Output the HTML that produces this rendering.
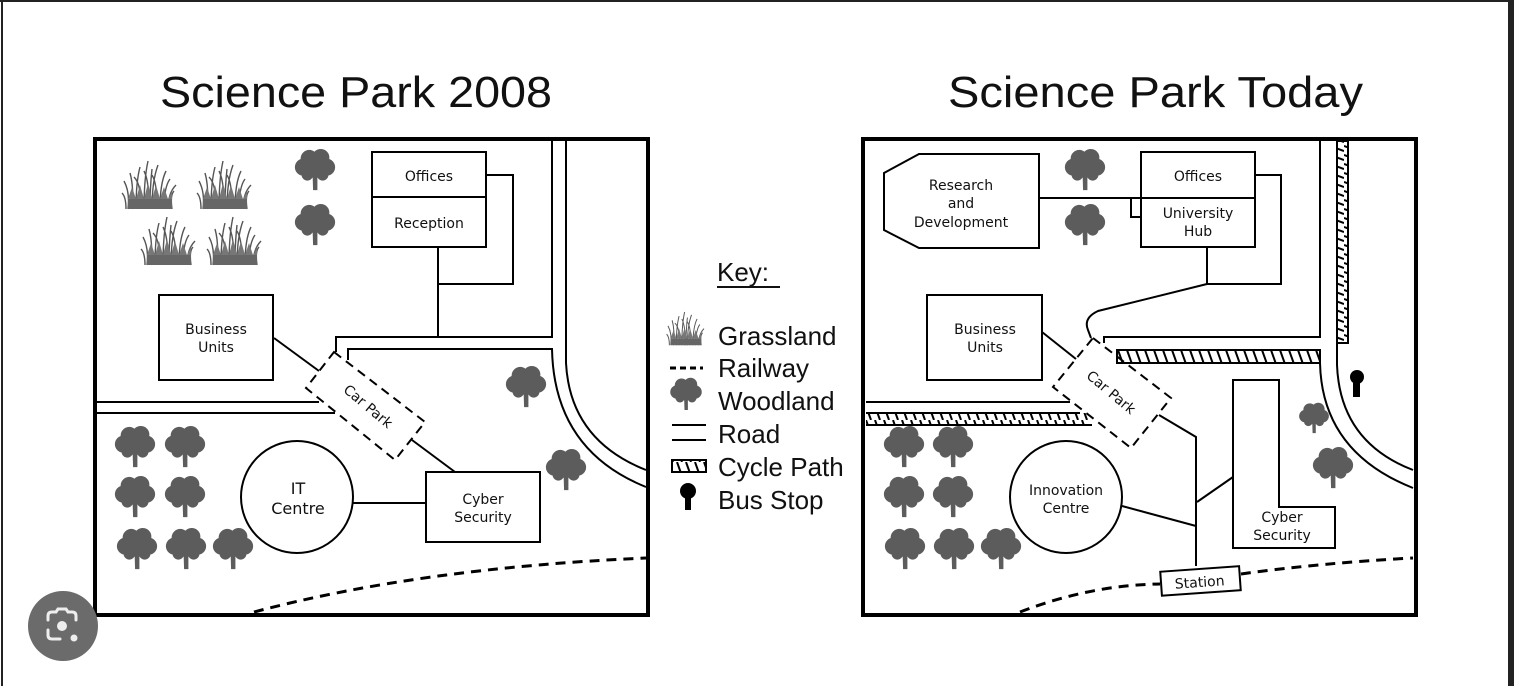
<!DOCTYPE html>
<html><head><meta charset="utf-8"><style>
html,body{margin:0;padding:0;background:#fff;}
svg{display:block;font-family:"Liberation Sans","DejaVu Sans",sans-serif;}
</style></head><body>
<svg width="1514" height="686" viewBox="0 0 1514 686" xmlns="http://www.w3.org/2000/svg">
<defs>
<symbol id="tree" viewBox="-24 -24 48 48" overflow="visible">
<g fill="#5c5c5c">
<circle cx="-12" cy="-4" r="9"/><circle cx="12" cy="-4" r="9"/>
<circle cx="-6" cy="-13" r="9"/><circle cx="6" cy="-14" r="9"/>
<circle cx="0" cy="-4" r="10"/><circle cx="-8" cy="4" r="6"/><circle cx="8" cy="4" r="6"/>
<path d="M-2.5 4 L-2 20 L2.5 20 L2.5 4 Z"/>
<path d="M-1 8 L-9 3 L-8 1 L0 6 L8 1 L9 3 L1 8 Z"/>
</g>
</symbol>
<symbol id="grass" viewBox="-26 -26 52 52" overflow="visible">
<g fill="none" stroke="#555" stroke-width="1.4">
<path d="M-22 22 Q-20 5 -26 -6"/><path d="M-18 22 Q-16 0 -20 -14"/><path d="M-14 22 Q-14 -5 -10 -20"/>
<path d="M-10 22 Q-8 -2 -16 -10"/><path d="M-6 22 Q-6 -8 -2 -26"/><path d="M-2 22 Q0 -4 -6 -16"/>
<path d="M2 22 Q2 -6 8 -22"/><path d="M6 22 Q8 -2 2 -12"/><path d="M10 22 Q10 -4 16 -16"/>
<path d="M14 22 Q14 0 20 -8"/><path d="M18 22 Q18 6 26 -2"/><path d="M22 22 Q20 8 24 4"/>
<path d="M-24 22 Q-24 10 -28 6"/><path d="M0 22 Q0 0 2 -18"/>
</g>
<rect x="-22" y="12" width="44" height="10" fill="#666"/>
<g fill="#777"><path d="M-22 12 L-18 0 L-14 12 L-10 -2 L-6 12 L-2 -4 L2 12 L6 -2 L10 12 L14 0 L18 12 L22 4 L22 12Z"/></g>
</symbol>
<pattern id="hatch" width="9" height="14" patternUnits="userSpaceOnUse">
<line x1="2" y1="0" x2="7" y2="14" stroke="#000" stroke-width="2"/>
</pattern>
<pattern id="hatchv" width="14" height="9" patternUnits="userSpaceOnUse">
<line x1="0" y1="2" x2="14" y2="7" stroke="#000" stroke-width="2"/>
</pattern>
</defs>

<line x1="2" y1="0" x2="2" y2="686" stroke="#222" stroke-width="2"/>
<rect x="1508" y="0" width="6" height="686" fill="#222"/>
<line x1="0" y1="1" x2="1514" y2="1" stroke="#222" stroke-width="2"/>

<text x="160" y="107" font-size="44" textLength="392" lengthAdjust="spacingAndGlyphs" fill="#111">Science Park 2008</text>
<text x="948" y="107" font-size="44" textLength="415" lengthAdjust="spacingAndGlyphs" fill="#111">Science Park Today</text>

<!-- LEFT MAP -->
<g fill="none" stroke="#000" stroke-width="2">
<rect x="95" y="139" width="553" height="476" stroke-width="4"/>
<path d="M552 140 L552 337 L336 337 L336 352"/>
<path d="M348 360 L348 349 L552 349 Q554 450 646 487"/>
<path d="M566 140 L566 363 Q570 440 646 470"/>
<path d="M97 402 L319 402"/>
<path d="M97 413 L335 413"/>
<rect x="372" y="152" width="114" height="45"/>
<rect x="372" y="197" width="114" height="50"/>
<path d="M486 175 L513 175 L513 284 L438 284"/>
<path d="M438 247 L438 337"/>
<rect x="159" y="295" width="114" height="85"/>
<path d="M274 338 L319 371"/>
<path d="M334 352 L425 422 L395 460 L306 388 Z" stroke-dasharray="9,6"/>
<path d="M412 440 L455 472"/>
<rect x="426" y="472" width="114" height="70"/>
<circle cx="297" cy="497" r="56"/>
<path d="M353 503 L426 503"/>
<path d="M254 612 Q420 568 646 558" stroke-width="3" stroke-dasharray="10,7"/>
</g>
<g font-size="14" text-anchor="middle" fill="#111" font-family="DejaVu Sans, sans-serif">
<text x="429" y="181">Offices</text>
<text x="429" y="228">Reception</text>
<text x="216" y="334">Business</text><text x="216" y="352">Units</text>
<text x="298" y="494" font-size="16">IT</text><text x="298" y="514" font-size="16">Centre</text>
<text x="483" y="504">Cyber</text><text x="483" y="522">Security</text>
<text x="0" y="0" transform="translate(365 410) rotate(40)">Car Park</text>
</g>
<use href="#grass" x="124" y="161" width="52" height="52"/>
<use href="#grass" x="199" y="161" width="52" height="52"/>
<use href="#grass" x="143" y="217" width="52" height="52"/>
<use href="#grass" x="209" y="217" width="52" height="52"/>
<use href="#tree" x="292" y="148" width="46" height="46"/>
<use href="#tree" x="292" y="203" width="46" height="46"/>
<use href="#tree" x="112" y="425" width="46" height="46"/>
<use href="#tree" x="162" y="425" width="46" height="46"/>
<use href="#tree" x="112" y="475" width="46" height="46"/>
<use href="#tree" x="162" y="475" width="46" height="46"/>
<use href="#tree" x="114" y="527" width="46" height="46"/>
<use href="#tree" x="163" y="527" width="46" height="46"/>
<use href="#tree" x="210" y="527" width="46" height="46"/>
<use href="#tree" x="503" y="365" width="46" height="46"/>
<use href="#tree" x="543" y="448" width="46" height="46"/>

<!-- KEY -->
<text x="717" y="281" font-size="26" fill="#111">Key:</text>
<line x1="717" y1="287" x2="780" y2="287" stroke="#111" stroke-width="2"/>
<use href="#grass" x="666" y="312" width="40" height="36"/>
<g font-size="26" fill="#111">
<text x="718" y="345">Grassland</text>
<text x="718" y="377">Railway</text>
<text x="718" y="410">Woodland</text>
<text x="718" y="443">Road</text>
<text x="718" y="476">Cycle Path</text>
<text x="718" y="509">Bus Stop</text>
</g>
<line x1="670" y1="368" x2="703" y2="368" stroke="#000" stroke-width="3" stroke-dasharray="6,4"/>
<use href="#tree" x="668" y="377" width="36" height="36"/>
<line x1="672" y1="425" x2="706" y2="425" stroke="#000" stroke-width="2"/>
<line x1="672" y1="440" x2="706" y2="440" stroke="#000" stroke-width="2"/>
<rect x="672" y="460" width="34" height="12" fill="url(#hatch)" stroke="#000" stroke-width="2"/>
<circle cx="688" cy="491" r="8" fill="#000"/>
<rect x="685" y="492" width="6" height="18" fill="#000"/>

<!-- RIGHT MAP -->
<g fill="none" stroke="#000" stroke-width="2">
<rect x="863" y="139" width="553" height="476" stroke-width="4"/>
<rect x="1117" y="350" width="203" height="13" fill="url(#hatch)"/>
<rect x="866" y="413" width="222" height="12" fill="url(#hatch)" stroke="none"/>
<path d="M866 413 L1080 413 M866 425 L1092 425"/>
<rect x="1337" y="141" width="11" height="202" fill="url(#hatchv)"/>
<path d="M1104 343 L1104 337 L1320 337 L1320 141"/>
<path d="M1320 363 Q1322 452 1413 488"/>
<path d="M1337 343 L1337 365 Q1340 442 1413 470"/>
<path d="M866 402 L1070 402"/>
<path d="M1207 284 L1098 311 Q1083 318 1088 330 L1091 338"/>
<path d="M919 154 L1039 154 L1039 248 L919 248 L884 230 L884 173 Z"/>
<path d="M1039 198 L1141 198 M1131 198 L1131 217 L1141 217"/>
<rect x="1141" y="152" width="114" height="46"/>
<rect x="1141" y="198" width="114" height="49"/>
<path d="M1255 175 L1281 175 L1281 284 L1207 284 M1207 247 L1207 284"/>
<rect x="927" y="295" width="115" height="85"/>
<path d="M1042 332 L1076 359"/>
<path d="M1093 338 L1171 398 L1131 448 L1053 387 Z" stroke-dasharray="9,6"/>
<path d="M1159 415 L1196 437 L1196 566"/>
<circle cx="1066" cy="497" r="56"/>
<path d="M1122 506 L1196 526"/>
<path d="M1197 502 L1233 477"/>
<path d="M1233 380 L1279 380 L1279 507 L1335 507 L1335 548 L1233 548 Z"/>
<g transform="rotate(-4 1200 581)"><rect x="1161" y="569" width="79" height="24"/></g>
<path d="M1020 612 Q1090 585 1160 584" stroke-width="3" stroke-dasharray="10,7"/>
<path d="M1241 574 Q1320 563 1413 558" stroke-width="3" stroke-dasharray="10,7"/>
</g>
<circle cx="1357" cy="377" r="7" fill="#000"/>
<rect x="1353" y="379" width="7" height="18" fill="#000"/>
<g font-size="14" text-anchor="middle" fill="#111" font-family="DejaVu Sans, sans-serif">
<text x="961" y="190">Research</text><text x="961" y="208">and</text><text x="961" y="227">Development</text>
<text x="1198" y="181">Offices</text>
<text x="1198" y="218">University</text><text x="1198" y="236">Hub</text>
<text x="985" y="334">Business</text><text x="985" y="352">Units</text>
<text x="1066" y="495">Innovation</text><text x="1066" y="513">Centre</text>
<text x="1282" y="522">Cyber</text><text x="1282" y="540">Security</text>
<text x="0" y="0" transform="translate(1200 587) rotate(-4)">Station</text>
<text x="0" y="0" transform="translate(1108 396) rotate(40)">Car Park</text>
</g>
<use href="#tree" x="1062" y="148" width="46" height="46"/>
<use href="#tree" x="1062" y="203" width="46" height="46"/>
<use href="#tree" x="881" y="425" width="46" height="46"/>
<use href="#tree" x="930" y="425" width="46" height="46"/>
<use href="#tree" x="881" y="475" width="46" height="46"/>
<use href="#tree" x="930" y="475" width="46" height="46"/>
<use href="#tree" x="882" y="527" width="46" height="46"/>
<use href="#tree" x="931" y="527" width="46" height="46"/>
<use href="#tree" x="978" y="527" width="46" height="46"/>
<use href="#tree" x="1297" y="402" width="34" height="34"/>
<use href="#tree" x="1310" y="446" width="46" height="46"/>

<circle cx="63" cy="626" r="35" fill="#6b6b6b"/>
<g fill="none" stroke="#eee" stroke-width="3" stroke-linecap="round">
<path d="M48 620 L48 616 Q48 612 52 612 L56 612 L58 609 L66 609 L68 612 L72 612 Q76 612 76 616 L76 620"/>
<path d="M48 630 L48 635 Q48 639 52 639 L60 639"/>
</g>
<circle cx="62" cy="626" r="5" fill="#eee"/>
<circle cx="74" cy="638" r="3.5" fill="#eee"/>
</svg>
</body></html>
